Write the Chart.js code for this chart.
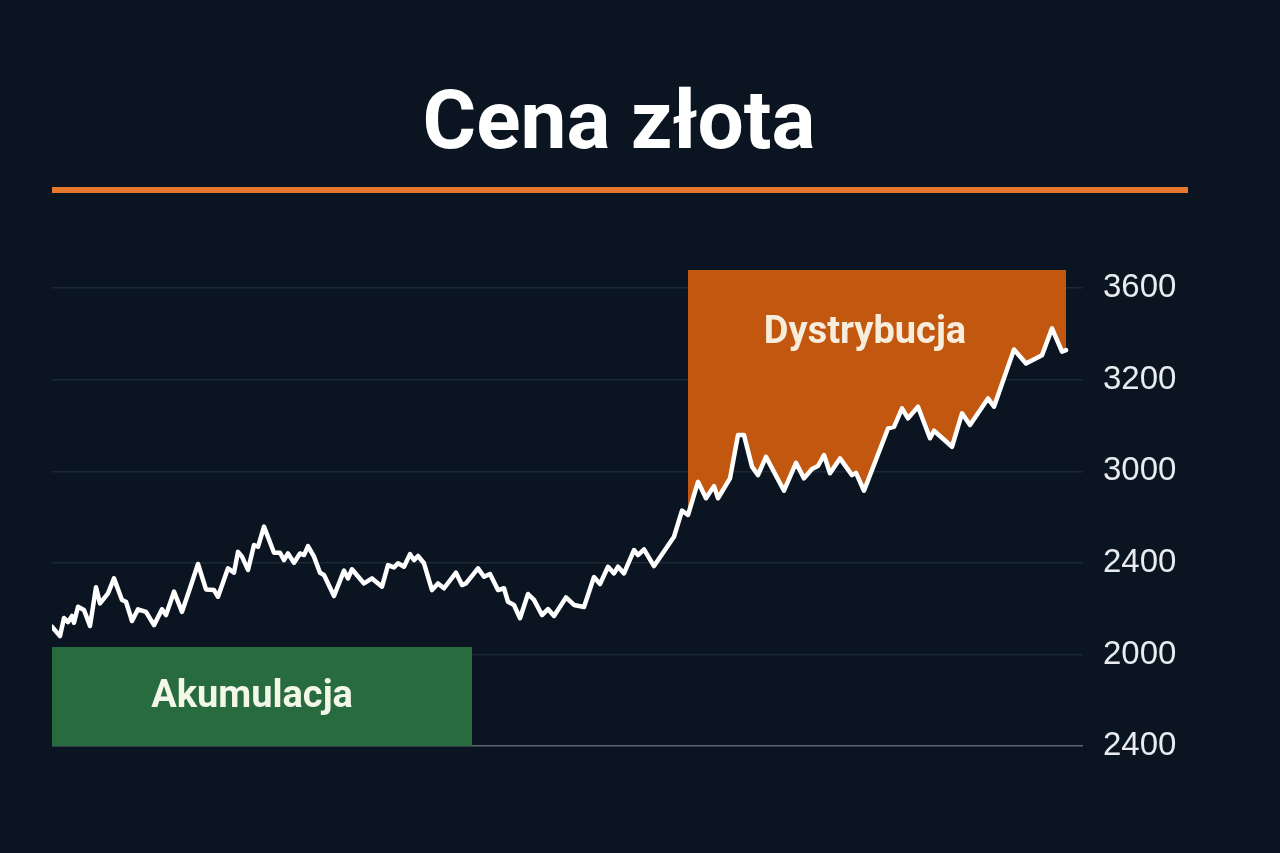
<!DOCTYPE html>
<html>
<head>
<meta charset="utf-8">
<script src="https://cdn.jsdelivr.net/npm/chart.js"></script>
<style>
  html, body { margin: 0; padding: 0; background: #0b1521; }
  #wrap { width: 1280px; height: 853px; position: relative; }
  canvas { display: block; }
</style>
</head>
<body>
<div id="wrap"><canvas id="c" width="1280" height="853"></canvas></div>
<script>
// ---------- data ----------
const titleText = 'Cena złota';
const days = [0,4,6,8,10,11,13,16,19,22,24,28,31,35,37,40,43,47,51,55,57,61,65,69,73,77,81,83,88,91,93,95,98,101,103,106,111,114,116,118,121,124,126,128,131,134,136,141,146,148,150,156,160,165,168,171,173,176,179,181,183,186,190,193,196,202,205,207,213,216,219,223,226,228,231,234,238,241,245,248,251,257,261,266,271,274,278,281,283,286,291,293,296,301,311,315,318,323,327,331,333,339,343,346,350,353,357,366,372,376,380,383,386,389,394,400,402,406,418,421,425,428,433,439,441,450,455,459,468,471,481,487,495,500,505,507];
const prices = [2121,2080,2159,2141,2168,2138,2208,2194,2124,2293,2223,2267,2332,2238,2230,2146,2197,2186,2128,2197,2172,2274,2186,2289,2395,2284,2281,2252,2376,2357,2448,2427,2369,2478,2470,2558,2444,2444,2412,2441,2400,2441,2434,2473,2427,2357,2347,2255,2366,2332,2372,2310,2332,2296,2390,2380,2398,2383,2438,2412,2430,2398,2281,2310,2289,2357,2303,2310,2376,2339,2351,2281,2289,2230,2216,2158,2264,2238,2172,2198,2168,2249,2216,2207,2338,2307,2383,2354,2383,2354,2456,2434,2459,2386,2514,2628,2609,2754,2682,2735,2682,2769,2958,2958,2820,2783,2863,2715,2837,2769,2810,2823,2871,2791,2856,2783,2793,2715,2987,2994,3075,3031,3082,2944,2977,2907,3053,3002,3118,3082,3332,3271,3307,3424,3322,3329];
const tickValues = [1600, 2000, 2400, 2800, 3200, 3600];
const tickLabels = ['2400', '2000', '2400', '3000', '3200', '3600'];
const zoneNames = ['Akumulacja', 'Dystrybucja'];
const accumulationStartDay = 0;
const accumulationEndDay = 210;
const accumulationTop = 2032;
const distributionStartIndex = 96;
const axisMinDay = 0, axisMaxDay = 515.5;
const axisMinPrice = 1600, axisMaxPrice = 3679;

// ---------- build ----------
const series = days.map((d, i) => ({ x: d, y: prices[i] }));
const distSeries = series.slice(distributionStartIndex);
const accSeries = [{ x: accumulationStartDay, y: accumulationTop }, { x: accumulationEndDay, y: accumulationTop }];

const decor = {
  id: 'decor',
  beforeDraw(chart) {
    const ctx = chart.ctx;
    ctx.save();
    ctx.fillStyle = '#0b1521';
    ctx.fillRect(0, 0, chart.width, chart.height);
    ctx.restore();
  },
  afterDraw(chart) {
    const ctx = chart.ctx;
    const xs = chart.scales.x, ys = chart.scales.y;
    ctx.save();
    // title
    ctx.fillStyle = '#ffffff';
    ctx.font = 'bold 82px Roboto, "Liberation Sans", sans-serif';
    ctx.textAlign = 'center';
    ctx.textBaseline = 'alphabetic';
    ctx.fillText(titleText, 619, 148);
    // orange rule
    ctx.fillStyle = '#e8782d';
    ctx.fillRect(52, 187, 1136, 6);
    // zone labels
    ctx.font = 'bold 38px Roboto, "Liberation Sans", sans-serif';
    const ax = (xs.getPixelForValue(accumulationStartDay) + xs.getPixelForValue(accumulationEndDay)) / 2 - 10;
    const ay = (ys.getPixelForValue(accumulationTop) + ys.getPixelForValue(axisMinPrice)) / 2 + 10;
    ctx.fillStyle = '#f2f7ea';
    ctx.fillText(zoneNames[0], ax, ay);
    const dx = (xs.getPixelForValue(days[distributionStartIndex]) + xs.getPixelForValue(days[days.length - 1])) / 2 - 12;
    const dy = ys.getPixelForValue(axisMaxPrice) + 73;
    ctx.fillStyle = '#f7eddc';
    ctx.fillText(zoneNames[1], dx, dy);
    ctx.restore();
  }
};

new Chart(document.getElementById('c'), {
  type: 'line',
  data: {
    datasets: [
      {
        data: series,
        borderColor: '#ffffff',
        borderWidth: 4.5,
        pointRadius: 0,
        tension: 0,
        borderJoinStyle: 'round',
        borderCapStyle: 'round',
        fill: false,
        order: 0
      },
      {
        data: distSeries,
        borderWidth: 0,
        borderColor: 'rgba(0,0,0,0)',
        backgroundColor: '#c2570f',
        pointRadius: 0,
        tension: 0,
        fill: 'end',
        order: 1
      },
      {
        data: accSeries,
        borderWidth: 0,
        borderColor: 'rgba(0,0,0,0)',
        backgroundColor: '#286b3e',
        pointRadius: 0,
        tension: 0,
        fill: 'start',
        order: 2
      }
    ]
  },
  options: {
    responsive: false,
    animation: false,
    devicePixelRatio: 1,
    layout: { padding: { top: 270, bottom: 107, left: 52, right: 0 } },
    plugins: { legend: { display: false }, tooltip: { enabled: false }, title: { display: false } },
    scales: {
      x: { type: 'linear', min: axisMinDay, max: axisMaxDay, display: false },
      y: {
        type: 'linear',
        position: 'right',
        min: axisMinPrice,
        max: axisMaxPrice,
        afterBuildTicks: (s) => { s.ticks = tickValues.map(v => ({ value: v })); },
        afterFit: (s) => { s.width = 197; },
        border: { display: false },
        grid: {
          drawTicks: false,
          lineWidth: 1.5,
          color: (c) => (c.tick && c.tick.value === tickValues[0]) ? '#5d6774' : '#1c2836'
        },
        ticks: {
          color: '#e8ebef',
          padding: 20,
          font: { family: '"Liberation Sans", Arial, sans-serif', size: 33 },
          callback: (v) => tickLabels[tickValues.indexOf(v)]
        }
      }
    }
  },
  plugins: [decor]
});
</script>
</body>
</html>
